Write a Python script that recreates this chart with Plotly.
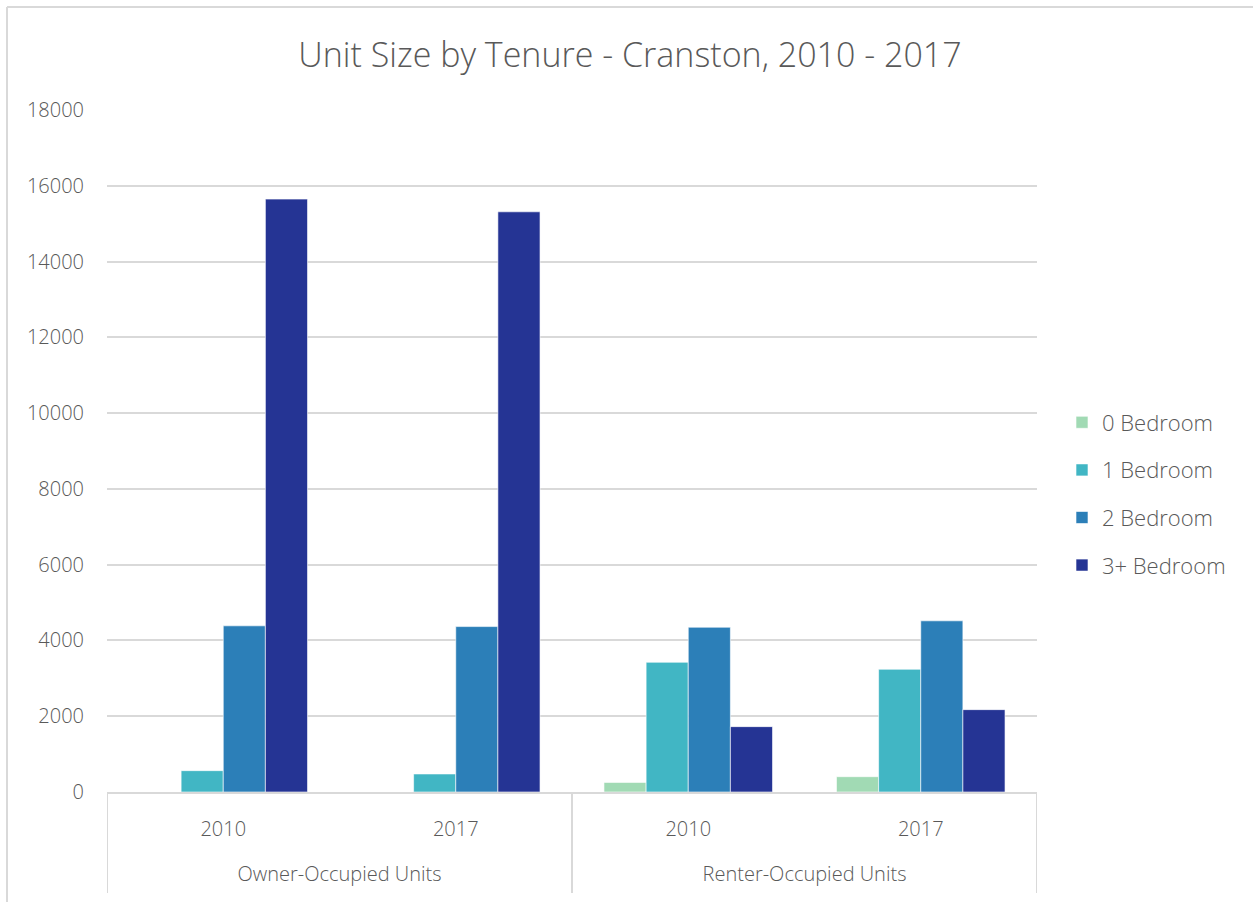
import plotly.graph_objects as go

tenure = ["Owner-Occupied Units", "Owner-Occupied Units", "Renter-Occupied Units", "Renter-Occupied Units"]
years = ["2010", "2017", "2010", "2017"]
series_names = ["0 Bedroom", "1 Bedroom", "2 Bedroom", "3+ Bedroom"]
bed0 = [0, 0, 254, 404]
bed1 = [563, 476, 3424, 3239]
bed2 = [4386, 4366, 4349, 4518]
bed3 = [15649, 15313, 1725, 2174]
colors = ["#A1DAB4", "#41B6C4", "#2C7FB8", "#253494"]
y_ticks = [0, 2000, 4000, 6000, 8000, 10000, 12000, 14000, 16000, 18000]

FONT = "Open Sans"
GRAY = "#595959"
LINE = "#D9D9D9"

W, H = 1253, 902
L, R, T, B = 107, 1037, 110, 792

# category positions on the x axis (one slot per tenure/year pair)
pos = list(range(len(years)))

# tenure groups: centre position of each group and boundaries between groups
groups = []
for i, t in enumerate(tenure):
    if not groups or groups[-1][0] != t:
        groups.append([t, [i]])
    else:
        groups[-1][1].append(i)
group_names = [g[0] for g in groups]
group_centers = [sum(g[1]) / len(g[1]) for g in groups]
boundaries = [groups[0][1][0] - 0.5] + [g[1][-1] + 0.5 for g in groups]

fig = go.Figure()
for name, vals, col in zip(series_names, [bed0, bed1, bed2, bed3], colors):
    fig.add_trace(go.Bar(
        x=pos, y=vals, name=name, legendgroup=name,
        marker=dict(color=col, line=dict(color="rgba(255,255,255,0.6)", width=1)),
    ))
# empty trace that carries the tenure-group axis
fig.add_trace(go.Scatter(x=group_centers, y=[None] * len(group_centers), xaxis="x2",
                         mode="markers", showlegend=False, hoverinfo="skip"))

xrange = [boundaries[0], boundaries[-1]]

fig.update_layout(
    width=W, height=H,
    margin=dict(l=L, r=W - R, t=T, b=H - B, autoexpand=False),
    paper_bgcolor="white", plot_bgcolor="white",
    barmode="group", bargap=0.275, bargroupgap=0,
    font=dict(family=FONT, color=GRAY, size=20, weight=300),
    title=dict(text="Unit Size by Tenure - Cranston, 2010 - 2017",
               x=630 / W, xanchor="center", y=1 - 55 / H, yanchor="middle",
               font=dict(family=FONT, size=34, color=GRAY, weight=300)),
    legend=dict(x=(1062 - L) / (R - L), xanchor="left", y=(B - 494) / (B - T), yanchor="middle",
                font=dict(family=FONT, size=22, color=GRAY, weight=300),
                tracegroupgap=16, itemwidth=30, bgcolor="rgba(0,0,0,0)"),
    showlegend=True,
    xaxis=dict(type="linear", range=xrange, tickvals=pos, ticktext=years,
               showline=True, linecolor=LINE, linewidth=2, ticks="", showgrid=False,
               zeroline=False, ticklabelstandoff=18,
               tickfont=dict(family=FONT, size=20, color=GRAY, weight=300)),
    xaxis2=dict(type="linear", range=xrange, overlaying="x", anchor="free", position=0,
                side="bottom", tickvals=group_centers, ticktext=group_names,
                showline=False, ticks="", showgrid=False, zeroline=False,
                ticklabelstandoff=68,
                tickfont=dict(family=FONT, size=20, color=GRAY, weight=300)),
    yaxis=dict(range=[0, 18000], tickvals=y_ticks, ticktext=[str(v) for v in y_ticks],
               showgrid=True, gridcolor=LINE, gridwidth=1.5, zeroline=False,
               showline=False, ticks="", ticklabelstandoff=22,
               tickfont=dict(family=FONT, size=20, color=GRAY, weight=300)),
)

# group dividers below the axis line
for bnd in boundaries:
    fig.add_shape(type="line", xref="x", yref="paper", x0=bnd, x1=bnd,
                  y0=0, y1=(B - 893) / (B - T), line=dict(color=LINE, width=2))

# outer chart frame (left and top edges visible)
fx0 = (7 - L) / (R - L)
fy0 = (B - 7) / (B - T)
fig.add_shape(type="line", xref="paper", yref="paper", x0=fx0, x1=fx0, y0=fy0, y1=(B - 920) / (B - T),
              line=dict(color=LINE, width=2))
fig.add_shape(type="line", xref="paper", yref="paper", x0=fx0, x1=(1300 - L) / (R - L), y0=fy0, y1=fy0,
              line=dict(color=LINE, width=2))

fig.write_html("out.html", config={"displayModeBar": False},
               post_script="document.body.style.margin='0';document.body.style.overflow='hidden';")
